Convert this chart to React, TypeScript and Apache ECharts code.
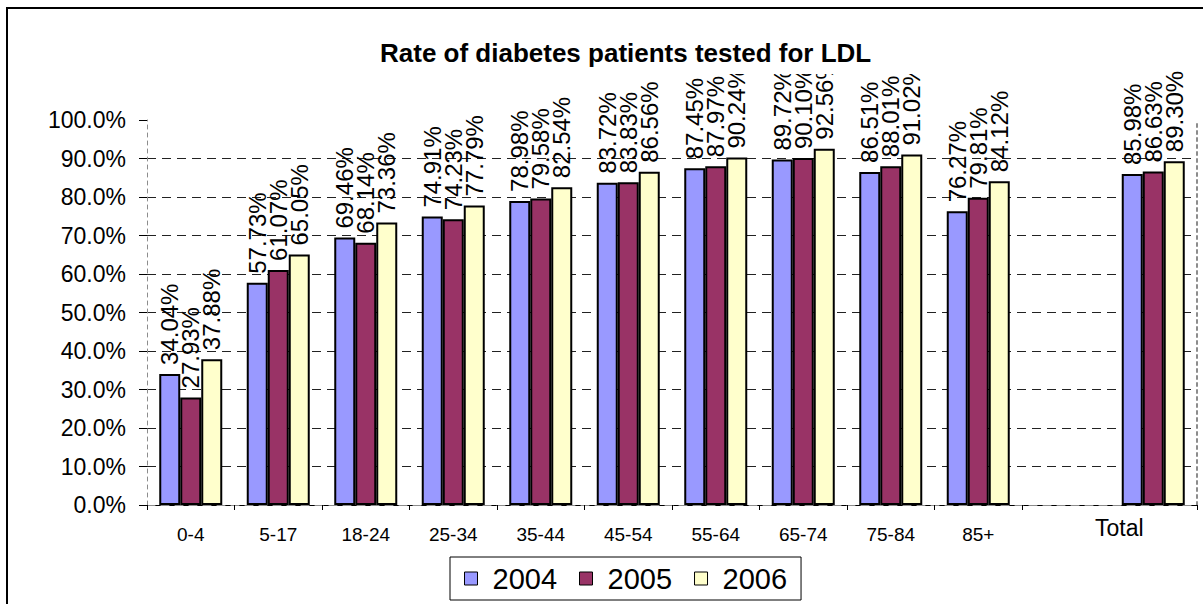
import { useEffect, useRef } from "react";
import * as echarts from "echarts";

// Age groups; the blank entry leaves a gap before the overall total.
const categories = ["0-4", "5-17", "18-24", "25-34", "35-44", "45-54", "55-64", "65-74", "75-84", "85+", "", "Total"];
const years = ["2004", "2005", "2006"];

// Share of diabetes patients tested for LDL, in percent.
const rate2004 = [34.04, 57.73, 69.46, 74.91, 78.98, 83.72, 87.45, 89.72, 86.51, 76.27, null, 85.98];
const rate2005 = [27.93, 61.07, 68.14, 74.23, 79.58, 83.83, 87.97, 90.1, 88.01, 79.81, null, 86.63];
const rate2006 = [37.88, 65.05, 73.36, 77.79, 82.54, 86.56, 90.24, 92.56, 91.02, 84.12, null, 89.3];

const yMin = 0;
const yMax = 100;
const yStep = 10;

const seriesColors = ["#9999FF", "#993366", "#FFFFCC"];
const FONT = '"Liberation Sans", Arial, Helvetica, sans-serif';

export default function App() {
  const ref = useRef<HTMLDivElement>(null);

  useEffect(() => {
    if (!ref.current) return;
    const chart = echarts.init(ref.current, undefined, { renderer: "svg" });
    const rates = [rate2004, rate2005, rate2006];

    chart.setOption({
      animation: false,
      textStyle: { fontFamily: FONT, color: "#000" },
      title: {
        // white box behind the title hides label text running up into it
        text: "Rate of diabetes patients tested for LDL",
        left: 350,
        top: 32,
        padding: [8, 60, 8, 30],
        backgroundColor: "#fff",
        textStyle: { fontFamily: FONT, fontSize: 26, fontWeight: "bold", color: "#000" },
      },
      legend: {
        data: years,
        left: 450,
        top: 557,
        orient: "horizontal",
        icon: "rect",
        itemWidth: 13,
        itemHeight: 13,
        itemGap: 22,
        padding: [7, 14, 7, 14],
        borderColor: "#000",
        borderWidth: 1,
        itemStyle: { borderColor: "#000", borderWidth: 1 },
        textStyle: { fontFamily: FONT, fontSize: 29, color: "#000", padding: [0, 0, 0, 10] },
      },
      grid: { left: 147, top: 120, width: 1050, height: 385, containLabel: false },
      xAxis: [
        {
          type: "category",
          data: categories,
          position: "bottom",
          axisLine: { show: true, lineStyle: { color: "#000", width: 1 } },
          axisTick: {
            show: true,
            length: 5,
            interval: (index: number) => index !== 11,
            lineStyle: { color: "#000" },
          },
          axisLabel: {
            interval: 0,
            margin: 11,
            formatter: (v: string) => (v === "Total" ? `{t|${v}}` : `{n|${v}}`),
            rich: {
              n: { fontFamily: FONT, fontSize: 19, color: "#000", padding: [9, 0, 0, 0] },
              t: { fontFamily: FONT, fontSize: 23, color: "#000", padding: [0, 68, 0, 0] },
            },
          },
          splitLine: { show: false },
        },
        {
          type: "category",
          data: categories,
          position: "top",
          axisLine: { show: true, lineStyle: { color: "#8c8c8c", width: 1, type: [8, 6] } },
          axisTick: { show: false },
          axisLabel: { show: false },
          splitLine: { show: false },
        },
      ],
      yAxis: [
        {
          type: "value",
          min: yMin,
          max: yMax,
          interval: yStep,
          axisLine: { show: true, lineStyle: { color: "#8c8c8c", width: 1, type: [4, 4] } },
          axisTick: { show: true, length: 8, lineStyle: { color: "#000" } },
          axisLabel: {
            margin: 21,
            fontFamily: FONT,
            fontSize: 23,
            color: "#000",
            formatter: (v: number) => v.toFixed(1) + "%",
          },
          splitLine: {
            show: true,
            showMinLine: false,
            showMaxLine: false,
            lineStyle: { color: "#222", width: 1, type: [9, 6] },
          },
        },
        {
          type: "value",
          min: yMin,
          max: yMax,
          interval: yStep,
          position: "right",
          axisLine: { show: true, lineStyle: { color: "#8c8c8c", width: 2, type: [3, 4] } },
          axisTick: { show: false },
          axisLabel: { show: false },
          splitLine: { show: false },
        },
      ],
      series: years.map((year, i) => ({
        name: year,
        type: "bar",
        xAxisIndex: 0,
        yAxisIndex: 0,
        data: rates[i],
        barGap: "0%",
        barCategoryGap: "28%",
        itemStyle: { color: seriesColors[i], borderColor: "#000", borderWidth: 2 },
        label: {
          show: true,
          position: "top",
          rotate: 90,
          align: "left",
          verticalAlign: "middle",
          distance: 9,
          fontFamily: FONT,
          fontSize: 24,
          color: "#000",
          formatter: (p: any) => (p.value == null ? "" : Number(p.value).toFixed(2) + "%"),
        },
      })),
      graphic: [
        {
          type: "rect",
          silent: true,
          shape: { x: 7, y: 8, width: 1210, height: 700 },
          style: { fill: "none", stroke: "#000", lineWidth: 2 },
        },
      ],
    });

    return () => chart.dispose();
  }, []);

  return (
    <div
      ref={ref}
      style={{ position: "fixed", left: 0, top: 0, width: 1203, height: 604, background: "#fff" }}
    />
  );
}
